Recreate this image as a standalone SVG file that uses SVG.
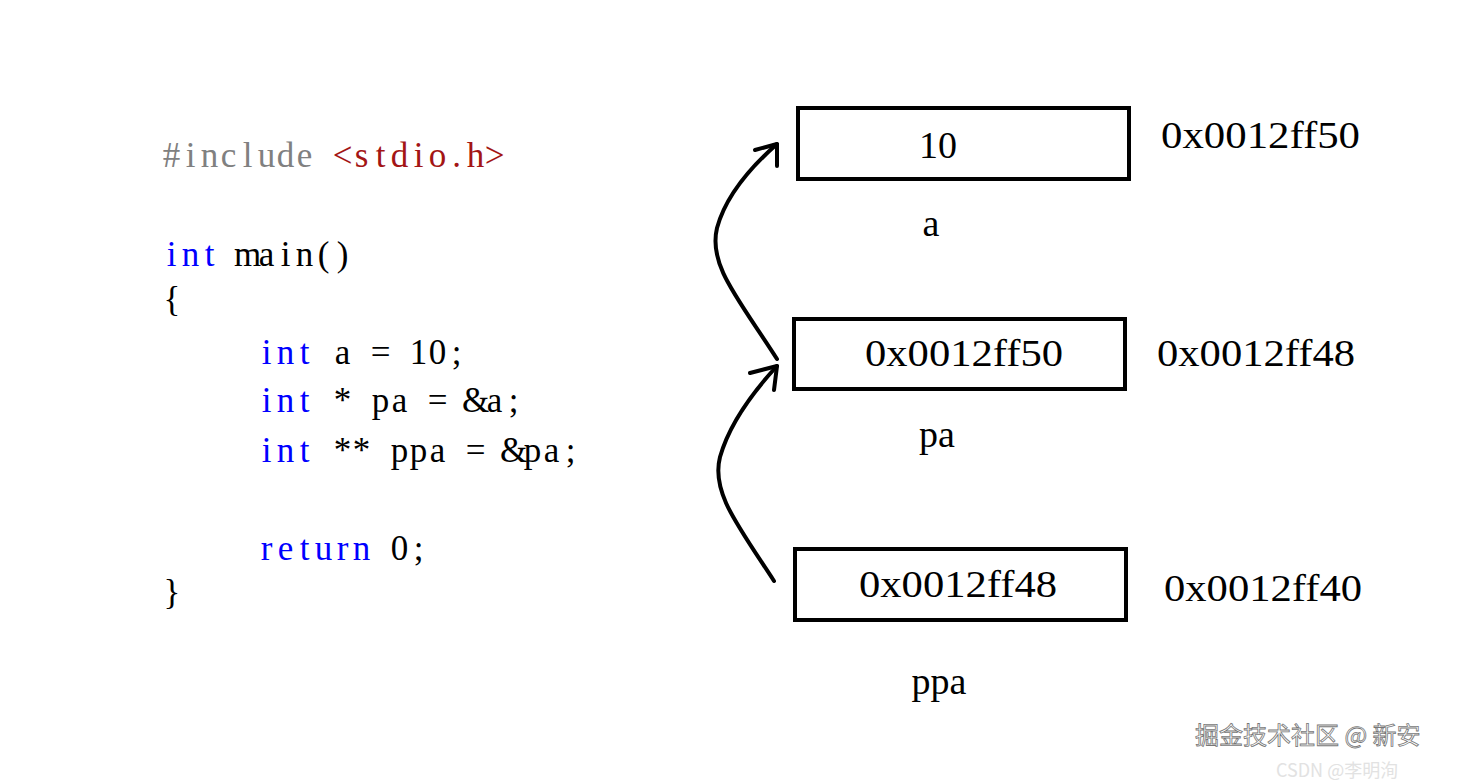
<svg xmlns="http://www.w3.org/2000/svg" width="1466" height="783" viewBox="0 0 1466 783">
<style>
.code{font-family:"Liberation Serif",serif;font-size:35px;fill:#000;text-anchor:middle}
.kw{fill:#0000ff}
.pp{fill:#808080}
.inc{fill:#a31515}
.lbl{font-family:"Liberation Serif",serif;font-size:38px;fill:#000}
.box{fill:#fff;stroke:#000;stroke-width:4}
.conn{fill:none;stroke:#000;stroke-width:4;stroke-linecap:round;stroke-linejoin:round}
</style>
<rect width="1466" height="783" fill="#fff"/>
<g id="code">
<text class="code" y="167"><tspan class="pp" x="171.5 190.5 209.5 228.5 247.5 266.5 285.5 304.5">#include</tspan><tspan class="inc" x="342.5 361.5 380.5 399.5 418.5 437.5 456.5 475.5 494.5">&lt;stdio.h&gt;</tspan></text>
<text class="code" y="266"><tspan class="kw" x="171.5 190.5 209.5">int</tspan><tspan x="247.5 266.5 285.5 304.5 323.5 342.5">main()</tspan></text>
<text class="code" y="311" x="172">{</text>
<text class="code" y="364"><tspan class="kw" x="266.5 285.5 304.5">int</tspan><tspan x="342.5">a</tspan><tspan x="380.5">=</tspan><tspan x="418.5 437.5 456.5">10;</tspan></text>
<text class="code" y="412"><tspan class="kw" x="266.5 285.5 304.5">int</tspan><tspan x="342.5">*</tspan><tspan x="380.5 399.5">pa</tspan><tspan x="437.5">=</tspan><tspan x="475.5 494.5 513.5">&amp;a;</tspan></text>
<text class="code" y="462"><tspan class="kw" x="266.5 285.5 304.5">int</tspan><tspan x="342.5 361.5">**</tspan><tspan x="399.5 418.5 437.5">ppa</tspan><tspan x="475.5">=</tspan><tspan x="513.5 532.5 551.5 570.5">&amp;pa;</tspan></text>
<text class="code" y="560"><tspan class="kw" x="266.5 285.5 304.5 323.5 342.5 361.5">return</tspan><tspan x="399.5 418.5">0;</tspan></text>
<text class="code" y="604" x="172">}</text>
</g>
<g id="node-a">
<rect class="box" x="798" y="108" width="331" height="71"/>
<text class="lbl" x="938" y="158" text-anchor="middle">10</text>
<text class="lbl" x="1161" y="148" textLength="199" lengthAdjust="spacingAndGlyphs">0x0012ff50</text>
<text class="lbl" x="931" y="236" text-anchor="middle">a</text>
</g>
<g id="node-pa">
<rect class="box" x="794" y="319" width="331" height="70"/>
<text class="lbl" x="865" y="366" textLength="198" lengthAdjust="spacingAndGlyphs">0x0012ff50</text>
<text class="lbl" x="1157" y="366" textLength="198" lengthAdjust="spacingAndGlyphs">0x0012ff48</text>
<text class="lbl" x="937" y="447" text-anchor="middle">pa</text>
</g>
<g id="node-ppa">
<rect class="box" x="795" y="549" width="331" height="71"/>
<text class="lbl" x="859" y="597" textLength="198" lengthAdjust="spacingAndGlyphs">0x0012ff48</text>
<text class="lbl" x="1164" y="601" textLength="198" lengthAdjust="spacingAndGlyphs">0x0012ff40</text>
<text class="lbl" x="939" y="694" text-anchor="middle">ppa</text>
</g>
<g id="connectors">
<path class="conn" d="M777,359 C738,298 708,265 717,228 C726,195 752,166 777,144"/>
<path class="conn" d="M755,150 L777,144 L777,166"/>
<path class="conn" d="M774,581 C737,524 711,492 720,457 C729,425 753,392 777,366"/>
<path class="conn" d="M750,373 L777,366 L774,390"/>
</g>
<g id="watermark" font-family="'Noto Sans CJK SC',sans-serif">
<text x="1276" y="777" font-size="18" fill="#e2e2e2">CSDN @李明洵</text>
<text x="1195" y="744" font-size="24" fill="#fff" stroke="#777" stroke-width="0.8">掘金技术社区 @ 新安</text>
</g>
</svg>
